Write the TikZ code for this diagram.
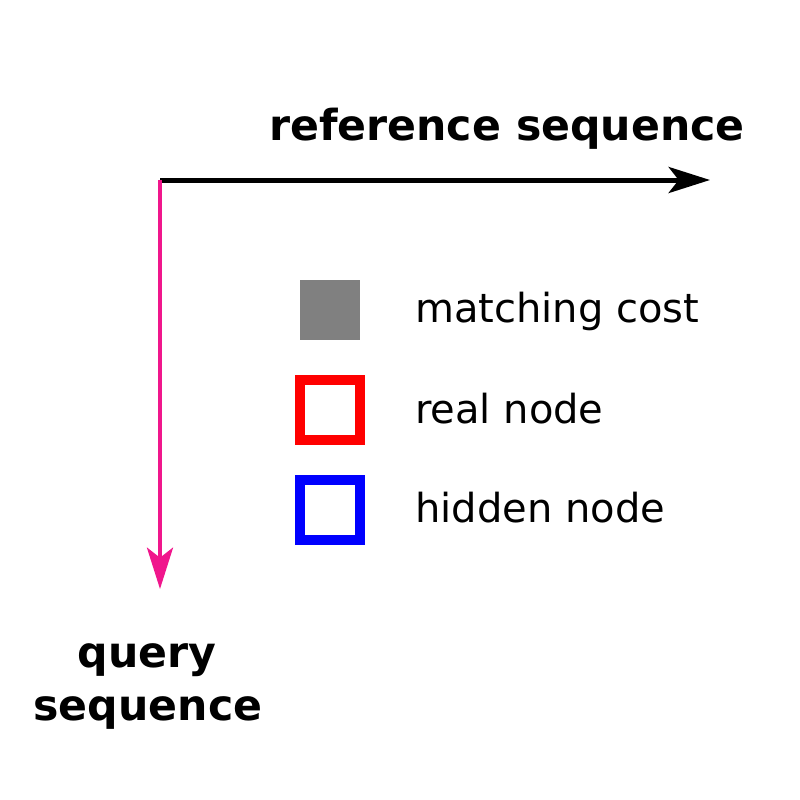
\documentclass[tikz,border=0pt]{standalone}
\usepackage{fontspec}
\setmainfont{DejaVu Sans}
\usetikzlibrary{arrows.meta}
\definecolor{qpink}{RGB}{240,22,140}
\definecolor{mgray}{RGB}{128,128,128}
\begin{document}
\begin{tikzpicture}[x=0.75pt,y=-0.75pt,
  lbl/.style={font=\fontsize{30pt}{36pt}\selectfont, inner sep=0pt, anchor=base west},
  ttl/.style={font=\fontsize{32pt}{39pt}\selectfont\bfseries, inner sep=0pt, anchor=base, align=center},
  sq/.style={minimum size=45pt, inner sep=0pt, outer sep=0pt},
  tip/.style={-{Stealth[length=31pt,width=19.5pt,inset=7.5pt]}}]
\useasboundingbox (0,0) rectangle (800,800);
\coordinate (o) at (160,180);
\coordinate (xend) at (710,180);
\coordinate (yend) at (160,589);
\draw[tip, line width=3.75pt, black] (o) -- (xend);
\draw[tip, line width=3pt, qpink] (o) -- (yend);
\node[ttl] (rs) at (507,140) {reference sequence};
\node[ttl] (qs1) at (147,667) {query};
\node[ttl] (qs2) at (148,720) {sequence};
\node[sq, fill=mgray] (cost) at (330,310) {};
\node[sq, draw=red, line width=7.5pt] (real) at (330,410) {};
\node[sq, draw=blue, line width=7.5pt] (hidden) at (330,510) {};
\node[lbl] (tcost) at (415,322) {matching cost};
\node[lbl] (treal) at (415,423) {real node};
\node[lbl] (thid) at (415,522) {hidden node};
\end{tikzpicture}
\end{document}
